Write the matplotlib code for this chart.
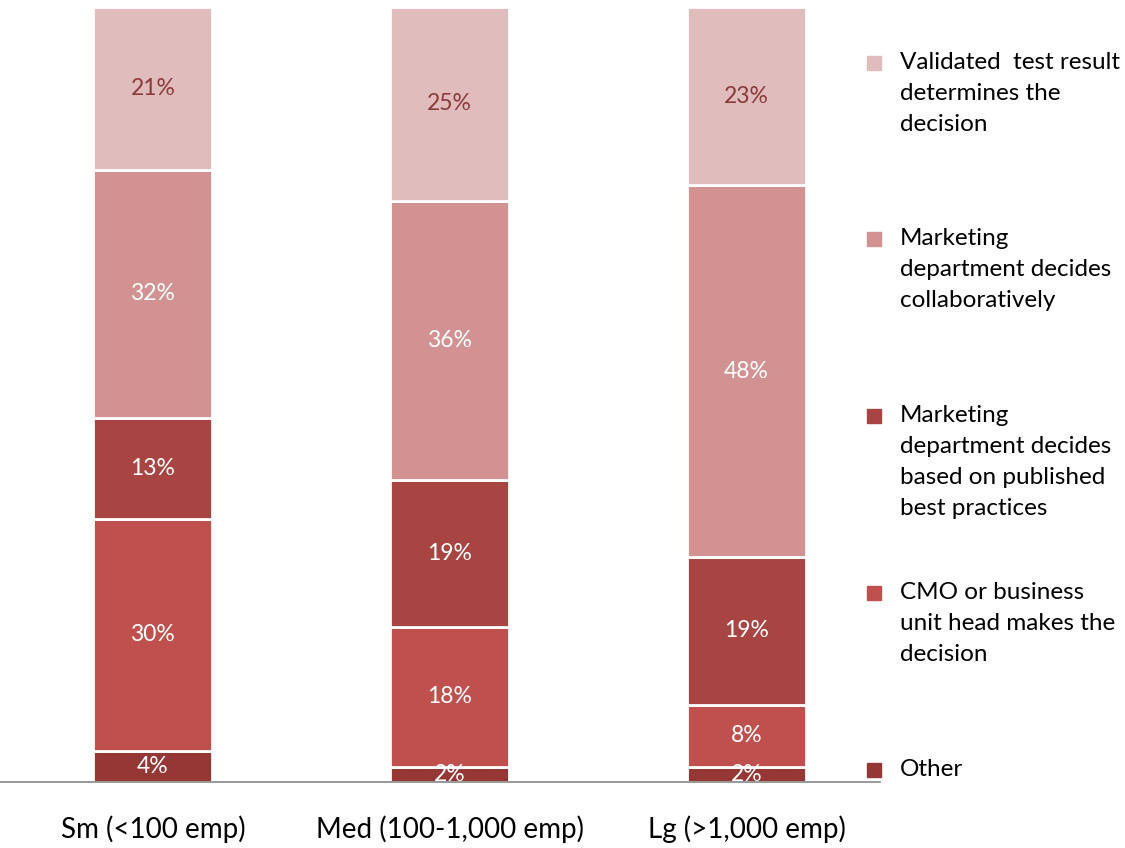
import numpy as np
import matplotlib.pyplot as plt
from matplotlib.patches import Rectangle

plt.rcParams['font.family'] = ['Lato', 'DejaVu Sans']

groups = ['Sm (<100 emp)', 'Med (100-1,000 emp)', 'Lg (>1,000 emp)']
series = ['Other',
          'CMO or business\nunit head makes the\ndecision',
          'Marketing\ndepartment decides\nbased on published\nbest practices',
          'Marketing\ndepartment decides\ncollaboratively',
          'Validated  test result\ndetermines the\ndecision']
values = [[4, 2, 2],
          [30, 18, 8],
          [13, 19, 19],
          [32, 36, 48],
          [21, 25, 23]]
colors = ['#953735', '#C0504D', '#A84543', '#D39292', '#E0BCBC']
label_colors = ['white', 'white', 'white', 'white', '#8B3A3A']

fig = plt.figure(figsize=(11.25, 8.48), dpi=100)
ax = fig.add_axes([0, 1 - 782 / 848, 880 / 1125, (782 - 7) / 848])

x = np.arange(len(groups))
bottom = np.zeros(len(groups))
for i in range(len(series)):
    v = np.array(values[i], dtype=float)
    ax.bar(x, v, 0.4, bottom=bottom, color=colors[i], edgecolor='white', linewidth=2)
    for j in range(len(groups)):
        t = ax.text(x[j], bottom[j] + v[j] / 2, '%d%%' % values[i][j], ha='center', va='center',
                    fontsize=16.5, color=label_colors[i])
        t.set_clip_on(True)
    bottom += v

ax.set_xlim(-0.515, 2.45)
ax.set_ylim(0, 100)
for s in ['top', 'right', 'left']:
    ax.spines[s].set_visible(False)
ax.spines['bottom'].set_color('#888888')
ax.spines['bottom'].set_linewidth(1.2)
ax.set_yticks([])
ax.set_xticks(x)
ax.set_xticklabels(groups, fontsize=20)
ax.tick_params(axis='x', length=0, pad=24)

# legend, top entry first
marker_y = [770, 593, 416, 239, 63]
for i in range(len(series)):
    yf = 1 - marker_y[i] / 848
    fig.patches.append(Rectangle((867 / 1125, yf - 7 / 848), 14 / 1125, 14 / 848,
                                 transform=fig.transFigure, color=colors[i]))
    fig.text(900 / 1125, 1 - (marker_y[i] - 11) / 848, series[i], ha='left', va='top',
             fontsize=17.5, linespacing=1.58)

fig.savefig('out.png', dpi=100)
